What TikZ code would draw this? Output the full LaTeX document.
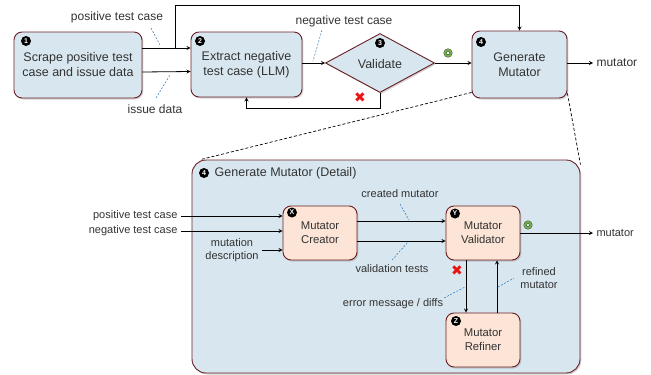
\documentclass[tikz,border=0pt]{standalone}
\usepackage{fontspec}
\setmainfont{Liberation Sans}
\newfontfamily\symfont{DejaVu Sans}
\usetikzlibrary{shapes.geometric,shadows,positioning}

\definecolor{boxblue}{RGB}{216,231,239}
\definecolor{boxpeach}{RGB}{252,228,214}
\definecolor{boxedge}{RGB}{105,30,35}
\definecolor{leadblue}{RGB}{46,117,182}
\definecolor{okgreen}{RGB}{112,173,71}
\definecolor{txtgray}{RGB}{50,50,50}
\definecolor{failred}{RGB}{235,20,20}

\tikzset{
    stepbox/.style={draw=boxedge, fill=boxblue, rounded corners=8pt, line width=0.9pt, align=center,
        text=txtgray, font=\fontsize{12.5}{15}\selectfont,
        drop shadow={opacity=0.35, shadow xshift=1.3pt, shadow yshift=-1.5pt}},
    subbox/.style={stepbox, fill=boxpeach, font=\fontsize{11.3}{14}\selectfont, minimum width=74pt, minimum height=54pt},
    badge/.style={circle, fill=black, text=white, inner sep=0pt, minimum size=10pt, font=\fontsize{7}{7}\selectfont\bfseries},
    lbl/.style={text=txtgray, font=\fontsize{12}{14}\selectfont, align=center},
    sublbl/.style={text=txtgray, font=\fontsize{11}{13.5}\selectfont, align=center},
    lead/.style={leadblue, line width=0.5pt, dash pattern=on 2pt off 1.5pt},
    zoomline/.style={black, line width=0.7pt, dash pattern=on 3pt off 2pt},
    flow/.style={line width=0.8pt, -stealth},
    okmark/.style={circle, draw=black!75, double=okgreen, double distance=2pt, line width=0.4pt, inner sep=0pt, minimum size=6pt},
    failmark/.style={text=failred, inner sep=0pt, font=\symfont\fontsize{14}{14}\selectfont},
}

\begin{document}
\begin{tikzpicture}[x=1pt, y=-1pt]
    \useasboundingbox (0, 0) rectangle (651, 375);

    % pipeline
    \node[stepbox, minimum width=128pt, minimum height=66pt] (scrape) at (78, 65) {Scrape positive test\\case and issue data};
    \node[stepbox, minimum width=111pt, minimum height=65pt] (extract) at (246.5, 64.5) {Extract negative\\test case (LLM)};
    \node[stepbox, diamond, rounded corners=0pt, inner sep=0pt, minimum width=109pt, minimum height=59pt] (validate) at (380, 63) {};
    \node[text=txtgray, font=\fontsize{12.5}{15}\selectfont] (vtext) at (380, 64) {Validate};
    \node[stepbox, minimum width=95pt, minimum height=67pt] (generate) at (519.5, 64.5) {Generate\\Mutator};
    \node[lbl, anchor=west] (out) at (593, 63) {mutator};

    \node[badge] (b1) at (26, 41) {1};
    \node[badge] (b2) at (200, 41) {2};
    \node[badge] (b3) at (380, 43) {3};
    \node[badge] (b4) at (481, 42) {4};

    \coordinate (fork) at (175, 48);
    \coordinate (bypass) at (175, 5);
    \coordinate (retry) at (380, 108);

    \draw[flow] (scrape.east |- fork) -- (extract.west |- fork);
    \draw[flow] ([yshift=-7pt]scrape.east) -- ([yshift=-7pt]extract.west);
    \draw[flow] (fork) -- (bypass) -| (generate.north);
    \draw[flow] (extract.east |- validate.west) -- (validate.west);
    \draw[flow] (validate.east) -- (generate.west |- validate.east);
    \draw[flow] (validate.south) -- (retry) -| (extract.south);
    \draw[flow] (generate.east |- out) -- (out.west);

    \node[okmark] (ok1) at (448, 53) {};
    \node[failmark] (fail1) at (360, 98) {✖};

    \node[lbl] (poslbl) at (117, 17) {positive test case};
    \node[lbl] (isslbl) at (155, 109) {issue data};
    \node[lbl] (neglbl) at (344, 21) {negative test case};
    \coordinate (posA) at (151, 28);  \coordinate (posB) at (160, 45);
    \coordinate (issA) at (156, 98);  \coordinate (issB) at (170, 75);
    \coordinate (negA) at (322, 30);  \coordinate (negB) at (313, 61);
    \draw[lead] (posA) -- (posB);
    \draw[lead] (issA) -- (issB);
    \draw[lead] (negA) -- (negB);

    % detail of step 4
    \node[stepbox, rounded corners=14pt, minimum width=388pt, minimum height=213pt] (detail) at (386, 266.5) {};
    \draw[zoomline] ([yshift=6pt]generate.south west) -- ([xshift=9pt]detail.north west);
    \draw[zoomline] ([yshift=5pt]generate.south east) -- ([yshift=-5pt]detail.north east);
    \node[badge] (b4d) at (204, 173) {4};
    \node[text=txtgray, font=\fontsize{12.5}{15}\selectfont, right=2pt of b4d] (dtitle) {Generate Mutator (Detail)};

    \node[subbox] (creator) at (320, 233) {Mutator\\Creator};
    \node[subbox] (validator) at (483, 233) {Mutator\\Validator};
    \node[subbox] (refiner) at (483, 340) {Mutator\\Refiner};
    \node[badge] (bx) at (292, 212.5) {X};
    \node[badge] (by) at (455, 213.5) {Y};
    \node[badge] (bz) at (456, 321) {Z};

    \node[sublbl, anchor=east] (posin) at (181, 216) {positive test case};
    \node[sublbl, anchor=east] (negin) at (181, 231) {negative test case};
    \node[sublbl] (descin) at (232, 250) {mutation\\description};
    \node[sublbl, anchor=west] (out2) at (593, 233) {mutator};

    \draw[flow] (posin.east) -- (creator.west |- posin.east);
    \draw[flow] (negin.east) -- (creator.west |- negin.east);
    \draw[flow] (descin.east) -- (creator.west |- descin.east);
    \draw[flow] ([yshift=12pt]creator.east) -- ([yshift=12pt]validator.west);
    \draw[flow] ([yshift=-8pt]creator.east) -- ([yshift=-8pt]validator.west);
    \draw[flow] (validator.east) -- (out2.west);
    \draw[flow] ([xshift=-17pt]validator.south) -- ([xshift=-17pt]refiner.north);
    \draw[flow] ([xshift=14pt]refiner.north) -- ([xshift=14pt]validator.south);

    \node[okmark] (ok2) at (528, 225) {};
    \node[failmark] (fail2) at (457, 271) {✖};

    \node[sublbl] (crlbl) at (400, 194) {created mutator};
    \node[sublbl] (vtlbl) at (392, 269) {validation tests};
    \node[sublbl] (errlbl) at (393, 304) {error message / diffs};
    \node[sublbl] (reflbl) at (539, 278) {refined\\mutator};
    \coordinate (crA) at (400, 204);   \coordinate (crB) at (409, 220);
    \coordinate (vtA) at (392, 260);   \coordinate (vtB) at (408, 242);
    \coordinate (errA) at (444, 298);  \coordinate (errB) at (465, 287);
    \coordinate (refA) at (498, 287);  \coordinate (refB) at (514, 278);
    \draw[lead] (crA) -- (crB);
    \draw[lead] (vtA) -- (vtB);
    \draw[lead] (errA) -- (errB);
    \draw[lead] (refA) -- (refB);
\end{tikzpicture}
\end{document}
